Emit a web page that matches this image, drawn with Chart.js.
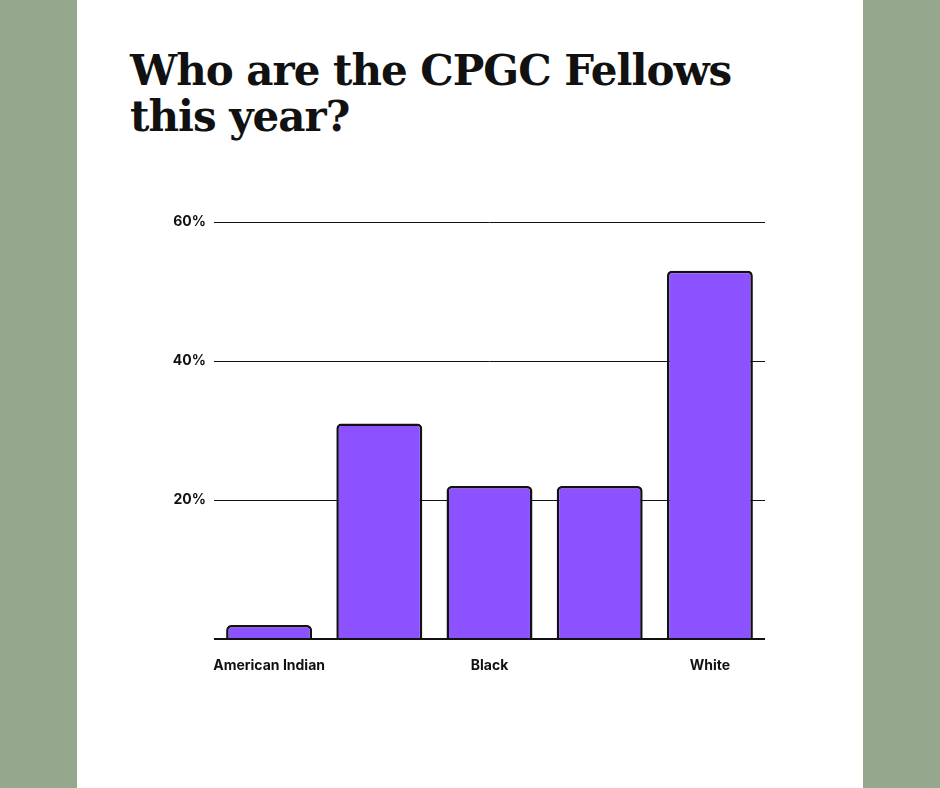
<!DOCTYPE html>
<html>
<head>
<meta charset="utf-8">
<script src="https://cdn.jsdelivr.net/npm/chart.js@4"></script>
<style>
  body { margin: 0; width: 940px; height: 788px; background: #95a78c; overflow: hidden; }
  #panel { position: absolute; left: 77px; top: 0; width: 786px; height: 788px; background: #fff; }
  h1 { position: absolute; left: 130px; top: 48px; margin: 0; font: 700 42px/46px "DejaVu Serif", serif; color: #111; letter-spacing: -1px; }
  #wrap { position: absolute; left: 150px; top: 200px; width: 620px; height: 480px; }
</style>
</head>
<body>
<div id="panel"></div>
<h1>Who are the CPGC Fellows<br>this year?</h1>
<div id="wrap"><canvas id="chart"></canvas></div>
<script>
// 数据
const categories = ['American Indian', 'Asian', 'Black', 'Latinx', 'White'];
const shares = [2, 31, 22, 22, 53];
const yTicks = [0, 20, 40, 60];

const chart = new Chart(document.getElementById('chart'), {
    type: 'bar',
    data: {
        labels: categories,
        datasets: [{
            data: shares,
            backgroundColor: '#8c52ff',
            borderColor: '#111',
            borderWidth: 2.5,
            borderRadius: 5,
            borderSkipped: 'bottom',
            categoryPercentage: 1,
            barPercentage: 0.78
        }]
    },
    options: {
        responsive: true,
        maintainAspectRatio: false,
        animation: false,
        layout: { padding: { top: 22, right: 5 } },
        plugins: { legend: { display: false }, tooltip: { enabled: false } },
        scales: {
            y: {
                min: 0, max: 60,
                afterFit: s => { s.width = 64; },
                afterBuildTicks: s => { s.ticks = yTicks.map(v => ({ value: v })); },
                border: { display: false },
                grid: {
                    drawTicks: false,
                    color: '#111',
                    lineWidth: ctx => ctx.tick && ctx.tick.value === 0 ? 2 : 1
                },
                ticks: {
                    padding: 8,
                    color: '#111',
                    font: { family: 'Inter', weight: 'bold', size: 14 },
                    callback: v => v === 0 ? '' : v + '%'
                }
            },
            x: {
                afterFit: s => { s.height = 41; },
                border: { display: false },
                grid: { display: false },
                ticks: {
                    padding: 10,
                    color: '#111',
                    maxRotation: 0,
                    font: { family: 'Inter', weight: 'bold', size: 14 }
                }
            }
        }
    }
});
</script>
</body>
</html>
